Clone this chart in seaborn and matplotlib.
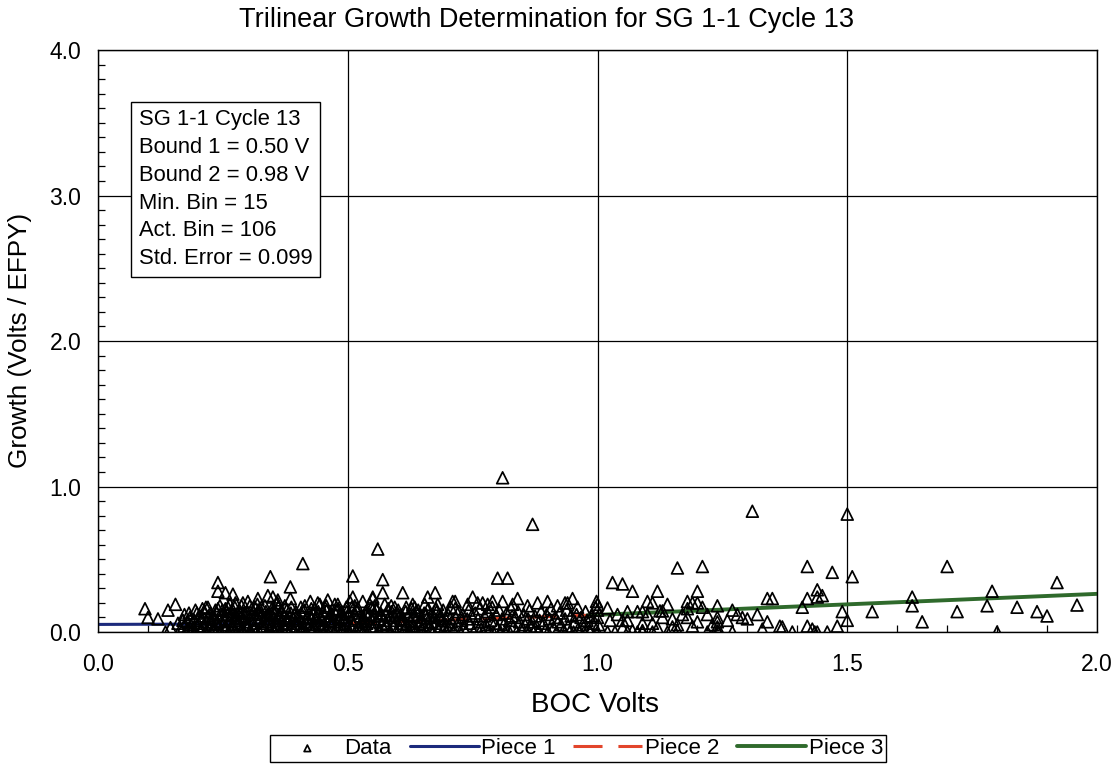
import matplotlib
matplotlib.use("Agg")
import matplotlib.pyplot as plt
import seaborn as sns
import pandas as pd
from matplotlib.ticker import MultipleLocator

# ---------------------------------------------------------------------------
# Growth rate vs. beginning-of-cycle voltage, SG 1-1 Cycle 13
# ---------------------------------------------------------------------------

# isolated indications below 0.17 V
left_tail = [
    (0.094, 0.16), (0.100, 0.10), (0.120, 0.09), (0.140, 0.15), (0.155, 0.19),
    (0.135, 0.00), (0.145, 0.03), (0.160, 0.06), (0.165, 0.02), (0.170, 0.08),
]

# the crowded band between 0.17 V and 0.71 V
dense_core = [
    (0.172, 0.04), (0.175, 0.00), (0.178, 0.07), (0.181, 0.02), (0.184, 0.10), (0.186, 0.05), (0.188, 0.01), (0.173, 0.12),
    (0.191, 0.03), (0.193, 0.08), (0.196, 0.00), (0.198, 0.13), (0.201, 0.06), (0.204, 0.11), (0.206, 0.02), (0.208, 0.09), (0.195, 0.15),
    (0.211, 0.04), (0.213, 0.14), (0.215, 0.00), (0.218, 0.07), (0.221, 0.11), (0.223, 0.02), (0.226, 0.09), (0.228, 0.05), (0.216, 0.17), (0.225, 0.13),
    (0.231, 0.01), (0.233, 0.10), (0.236, 0.06), (0.238, 0.13), (0.241, 0.03), (0.243, 0.08), (0.246, 0.00), (0.248, 0.12), (0.235, 0.15), (0.244, 0.18),
    (0.251, 0.05), (0.253, 0.02), (0.256, 0.09), (0.258, 0.14), (0.261, 0.00), (0.263, 0.07), (0.266, 0.11), (0.268, 0.04), (0.255, 0.16), (0.264, 0.19), (0.259, 0.12),
    (0.271, 0.03), (0.273, 0.08), (0.276, 0.12), (0.278, 0.00), (0.281, 0.06), (0.283, 0.15), (0.286, 0.10), (0.288, 0.02), (0.274, 0.17), (0.284, 0.13), (0.279, 0.05),
    (0.291, 0.01), (0.293, 0.11), (0.296, 0.07), (0.298, 0.14), (0.301, 0.04), (0.303, 0.09), (0.306, 0.00), (0.308, 0.16), (0.294, 0.13), (0.304, 0.18), (0.299, 0.03),
    (0.311, 0.06), (0.313, 0.02), (0.316, 0.12), (0.318, 0.08), (0.321, 0.15), (0.323, 0.00), (0.326, 0.10), (0.328, 0.04), (0.314, 0.17), (0.324, 0.13), (0.319, 0.19),
    (0.331, 0.03), (0.333, 0.09), (0.336, 0.14), (0.338, 0.00), (0.341, 0.07), (0.343, 0.11), (0.346, 0.05), (0.348, 0.16), (0.334, 0.18), (0.344, 0.02), (0.339, 0.12),
    (0.351, 0.01), (0.353, 0.13), (0.356, 0.08), (0.358, 0.04), (0.361, 0.17), (0.363, 0.10), (0.366, 0.00), (0.368, 0.06), (0.354, 0.15), (0.364, 0.12), (0.359, 0.20),
    (0.371, 0.05), (0.373, 0.11), (0.376, 0.02), (0.378, 0.15), (0.381, 0.08), (0.383, 0.00), (0.386, 0.13), (0.388, 0.03), (0.374, 0.18), (0.384, 0.10), (0.379, 0.06),
    (0.391, 0.09), (0.393, 0.01), (0.396, 0.14), (0.398, 0.06), (0.401, 0.11), (0.403, 0.03), (0.406, 0.17), (0.408, 0.00), (0.394, 0.12), (0.404, 0.08),
    (0.411, 0.04), (0.413, 0.15), (0.416, 0.00), (0.418, 0.10), (0.421, 0.07), (0.423, 0.13), (0.426, 0.02), (0.428, 0.09), (0.414, 0.18), (0.424, 0.05),
    (0.431, 0.12), (0.433, 0.03), (0.436, 0.08), (0.438, 0.00), (0.441, 0.14), (0.443, 0.06), (0.446, 0.10), (0.448, 0.01), (0.434, 0.16), (0.444, 0.19),
    (0.451, 0.05), (0.453, 0.11), (0.456, 0.02), (0.458, 0.15), (0.461, 0.08), (0.463, 0.00), (0.466, 0.13), (0.468, 0.04), (0.454, 0.17), (0.464, 0.09),
    (0.471, 0.07), (0.473, 0.00), (0.476, 0.12), (0.478, 0.03), (0.481, 0.16), (0.483, 0.09), (0.486, 0.01), (0.488, 0.14), (0.474, 0.19), (0.484, 0.05),
    (0.491, 0.02), (0.493, 0.10), (0.496, 0.06), (0.498, 0.14), (0.501, 0.00), (0.503, 0.12), (0.506, 0.04), (0.508, 0.17), (0.494, 0.08), (0.504, 0.21),
    (0.511, 0.05), (0.513, 0.13), (0.516, 0.01), (0.518, 0.09), (0.521, 0.16), (0.523, 0.03), (0.526, 0.11), (0.528, 0.07), (0.514, 0.18), (0.524, 0.00),
    (0.531, 0.10), (0.533, 0.02), (0.536, 0.14), (0.538, 0.06), (0.541, 0.00), (0.543, 0.12), (0.546, 0.04), (0.548, 0.17), (0.534, 0.08), (0.544, 0.19),
    (0.551, 0.03), (0.553, 0.11), (0.556, 0.07), (0.558, 0.15), (0.561, 0.01), (0.563, 0.09), (0.566, 0.13), (0.568, 0.05), (0.554, 0.18), (0.564, 0.00),
    (0.571, 0.08), (0.573, 0.02), (0.576, 0.12), (0.578, 0.05), (0.581, 0.16), (0.583, 0.00), (0.586, 0.10), (0.588, 0.14), (0.574, 0.19),
    (0.591, 0.04), (0.593, 0.11), (0.596, 0.00), (0.598, 0.08), (0.601, 0.15), (0.603, 0.02), (0.606, 0.12), (0.608, 0.06), (0.594, 0.17),
    (0.611, 0.09), (0.613, 0.01), (0.616, 0.14), (0.618, 0.05), (0.621, 0.11), (0.623, 0.00), (0.626, 0.07), (0.628, 0.16), (0.614, 0.03),
    (0.631, 0.12), (0.633, 0.04), (0.636, 0.08), (0.638, 0.00), (0.641, 0.15), (0.643, 0.06), (0.646, 0.10), (0.648, 0.02), (0.634, 0.17),
    (0.651, 0.05), (0.653, 0.13), (0.656, 0.01), (0.658, 0.09), (0.661, 0.16), (0.663, 0.03), (0.666, 0.11), (0.668, 0.07), (0.654, 0.19),
    (0.671, 0.00), (0.673, 0.10), (0.676, 0.06), (0.678, 0.14), (0.681, 0.02), (0.683, 0.12), (0.686, 0.04), (0.688, 0.08),
    (0.691, 0.15), (0.693, 0.03), (0.696, 0.09), (0.698, 0.00), (0.701, 0.12), (0.703, 0.05), (0.706, 0.17), (0.708, 0.07),
]

# second pass through the crowded band (overlapping indications)
dense_overlap = [
    (0.182, 0.13), (0.199, 0.04), (0.209, 0.16), (0.219, 0.01), (0.229, 0.10), (0.239, 0.07), (0.249, 0.15),
    (0.257, 0.03), (0.267, 0.14), (0.277, 0.09), (0.287, 0.18), (0.297, 0.05), (0.307, 0.12), (0.317, 0.00),
    (0.327, 0.17), (0.337, 0.06), (0.347, 0.13), (0.357, 0.02), (0.367, 0.15), (0.377, 0.09), (0.387, 0.17),
    (0.397, 0.04), (0.407, 0.13), (0.417, 0.06), (0.427, 0.16), (0.437, 0.11), (0.447, 0.04), (0.457, 0.18),
    (0.467, 0.07), (0.477, 0.15), (0.487, 0.10), (0.497, 0.17), (0.507, 0.08), (0.517, 0.15), (0.527, 0.02),
    (0.537, 0.12), (0.547, 0.09), (0.557, 0.16), (0.567, 0.11), (0.577, 0.06), (0.587, 0.18), (0.597, 0.13),
    (0.607, 0.09), (0.617, 0.17), (0.627, 0.04), (0.637, 0.14), (0.647, 0.07), (0.657, 0.12), (0.667, 0.02),
    (0.677, 0.16), (0.687, 0.11), (0.697, 0.05),
]

# thinner band from 0.71 V up to 1.0 V
mid_band = [
    (0.712, 0.01), (0.716, 0.10), (0.719, 0.05), (0.722, 0.14), (0.725, 0.00), (0.728, 0.08), (0.730, 0.12),
    (0.733, 0.03), (0.736, 0.00), (0.739, 0.09), (0.742, 0.15), (0.745, 0.06), (0.748, 0.11),
    (0.752, 0.00), (0.755, 0.13), (0.758, 0.04), (0.761, 0.09), (0.764, 0.16), (0.767, 0.02), (0.769, 0.07),
    (0.771, 0.00), (0.774, 0.11), (0.777, 0.05), (0.780, 0.14), (0.783, 0.01), (0.786, 0.08), (0.789, 0.17),
    (0.791, 0.00), (0.794, 0.06), (0.797, 0.12), (0.800, 0.03), (0.803, 0.15), (0.806, 0.00), (0.809, 0.09),
    (0.812, 0.05), (0.815, 0.00), (0.818, 0.13), (0.821, 0.02), (0.824, 0.08), (0.827, 0.16), (0.829, 0.11),
    (0.832, 0.04), (0.835, 0.10), (0.838, 0.00), (0.841, 0.14), (0.844, 0.07), (0.847, 0.02),
    (0.852, 0.12), (0.855, 0.05), (0.858, 0.00), (0.861, 0.09), (0.864, 0.15), (0.867, 0.03), (0.869, 0.07),
    (0.872, 0.00), (0.875, 0.11), (0.878, 0.04), (0.881, 0.00), (0.884, 0.08), (0.887, 0.14),
    (0.892, 0.06), (0.895, 0.01), (0.898, 0.12), (0.901, 0.00), (0.904, 0.09), (0.907, 0.16),
    (0.912, 0.03), (0.915, 0.10), (0.918, 0.00), (0.921, 0.07), (0.924, 0.13), (0.927, 0.05),
    (0.932, 0.01), (0.935, 0.09), (0.938, 0.15), (0.941, 0.04), (0.944, 0.00), (0.947, 0.11),
    (0.952, 0.00), (0.955, 0.07), (0.958, 0.12), (0.961, 0.02), (0.964, 0.00), (0.967, 0.10), (0.970, 0.05),
    (0.973, 0.00), (0.976, 0.14), (0.979, 0.08), (0.982, 0.03), (0.985, 0.00), (0.988, 0.11), (0.991, 0.06),
    (0.998, 0.21), (1.000, 0.19), (1.000, 0.15), (1.000, 0.10), (1.002, 0.05), (1.000, 0.00), (0.996, 0.17),
]

# higher growth rates sitting above the band (below 1.0 V)
upper_scatter = [
    (0.240, 0.34), (0.240, 0.28), (0.255, 0.27), (0.270, 0.26), (0.345, 0.38), (0.340, 0.25),
    (0.350, 0.24), (0.300, 0.21), (0.320, 0.23), (0.240, 0.16), (0.260, 0.17), (0.275, 0.20),
    (0.385, 0.31), (0.385, 0.23), (0.410, 0.47), (0.425, 0.21), (0.510, 0.385), (0.560, 0.57),
    (0.570, 0.36), (0.570, 0.27), (0.510, 0.24), (0.550, 0.24), (0.610, 0.27), (0.630, 0.19),
    (0.660, 0.24), (0.675, 0.27), (0.710, 0.21), (0.750, 0.24), (0.770, 0.20), (0.680, 0.19),
    (0.530, 0.21), (0.550, 0.23), (0.790, 0.21), (0.810, 0.21), (0.840, 0.23), (0.900, 0.21),
    (0.950, 0.23), (0.935, 0.20), (0.960, 0.17), (0.715, 0.21), (0.715, 0.16), (0.800, 0.37),
    (0.820, 0.37), (0.810, 1.06), (0.870, 0.74), (0.460, 0.22), (0.440, 0.20), (0.480, 0.19),
    (0.360, 0.22), (0.290, 0.20), (0.220, 0.17), (0.740, 0.19), (0.760, 0.20), (0.780, 0.19),
    (0.830, 0.19), (0.860, 0.18), (0.880, 0.20), (0.920, 0.18), (0.940, 0.20),
]

# indications between 1.0 V and 1.5 V
upper_range = [
    (1.030, 0.34), (1.050, 0.33), (1.070, 0.28), (1.120, 0.28), (1.160, 0.44), (1.210, 0.45),
    (1.200, 0.28), (1.100, 0.21), (1.110, 0.20), (1.140, 0.19), (1.180, 0.21), (1.190, 0.20),
    (1.200, 0.20), (1.210, 0.17), (1.240, 0.18), (1.060, 0.14), (1.080, 0.14), (1.090, 0.14),
    (1.125, 0.145), (1.130, 0.145), (1.180, 0.16), (1.280, 0.12), (1.290, 0.10), (1.300, 0.09),
    (1.320, 0.12), (1.340, 0.23), (1.350, 0.23), (1.340, 0.07), (1.370, 0.035), (1.390, 0.00),
    (1.050, 0.08), (1.060, 0.08), (1.090, 0.06), (1.110, 0.06), (1.150, 0.09), (1.150, 0.035),
    (1.140, 0.00), (1.160, 0.01), (1.180, 0.10), (1.200, 0.07), (1.240, 0.10), (1.240, 0.07),
    (1.240, 0.035), (1.240, 0.007), (1.242, 0.00), (1.220, 0.00), (1.270, 0.00), (1.050, 0.03),
    (1.060, 0.00), (1.070, 0.01), (1.090, 0.01), (1.090, 0.00), (1.110, 0.00), (1.020, 0.165),
    (1.025, 0.08), (1.040, 0.12), (1.035, 0.00), (1.020, 0.00), (1.080, 0.00), (1.100, 0.12),
    (1.120, 0.03), (1.130, 0.10), (1.160, 0.05), (1.170, 0.12), (1.190, 0.04), (1.220, 0.12),
    (1.230, 0.05), (1.260, 0.08), (1.270, 0.15), (1.310, 0.83), (1.330, 0.02), (1.365, 0.04),
    (1.420, 0.45), (1.470, 0.41), (1.500, 0.81), (1.440, 0.29), (1.420, 0.23), (1.440, 0.24),
    (1.450, 0.25), (1.410, 0.17), (1.490, 0.14), (1.500, 0.08), (1.420, 0.04), (1.430, 0.02),
    (1.440, 0.00), (1.460, 0.00), (1.480, 0.04), (1.435, 0.00),
]

# sparse indications above 1.5 V
right_tail = [
    (1.510, 0.38), (1.550, 0.14), (1.630, 0.24), (1.630, 0.18), (1.650, 0.07), (1.700, 0.45),
    (1.720, 0.14), (1.780, 0.18), (1.790, 0.28), (1.800, 0.00), (1.840, 0.17), (1.880, 0.14),
    (1.900, 0.11), (1.920, 0.34), (1.960, 0.185),
]

# trilinear fit: breakpoints and fitted growth at each end of a piece
piece_names = ["Piece 1", "Piece 2", "Piece 3"]
piece_volts = [(0.0, 0.50), (0.50, 0.98), (0.98, 2.0)]
piece_growth = [(0.052, 0.058), (0.058, 0.115), (0.115, 0.262)]
piece_colors = ["#1c2a7c", "#e2452b", "#2f6a2c"]

summary_lines = [
    "SG 1-1 Cycle 13",
    "Bound 1 = 0.50 V",
    "Bound 2 = 0.98 V",
    "Min. Bin = 15",
    "Act. Bin = 106",
    "Std. Error = 0.099",
]

# ---------------------------------------------------------------------------
points = (left_tail + dense_core + dense_overlap + mid_band + upper_scatter
          + upper_range + right_tail)
df = pd.DataFrame(points, columns=["boc", "growth"])

sns.set_style("white")
plt.rcParams["font.family"] = ["Liberation Sans", "DejaVu Sans"]
for key in ["text.color", "axes.labelcolor", "xtick.color", "ytick.color"]:
    plt.rcParams[key] = "black"

fig = plt.figure(figsize=(11.18, 7.71), dpi=100)
ax = fig.add_axes([0.0877, 0.1803, 0.8935, 0.7548])

for name, xs, ys, col in zip(piece_names, piece_volts, piece_growth, piece_colors):
    style = (0, (9.5, 5.2)) if name == "Piece 2" else "-"
    lw = 2.8 if name == "Piece 3" else 2.2
    sns.lineplot(x=list(xs), y=list(ys), ax=ax, color=col, linewidth=lw,
                 linestyle=style, label=name, zorder=2)

sns.scatterplot(data=df, x="boc", y="growth", ax=ax, marker="^", s=72,
                facecolor="none", edgecolor="black", linewidth=1.25,
                label="Data", zorder=3)

ax.set_xlim(0, 2.0)
ax.set_ylim(0, 4.0)
ax.xaxis.set_major_locator(MultipleLocator(0.5))
ax.yaxis.set_major_locator(MultipleLocator(1.0))
ax.xaxis.set_minor_locator(MultipleLocator(0.1))
ax.yaxis.set_minor_locator(MultipleLocator(0.1))
ax.xaxis.set_major_formatter(plt.FormatStrFormatter("%.1f"))
ax.yaxis.set_major_formatter(plt.FormatStrFormatter("%.1f"))
ax.grid(True, which="major", color="black", linewidth=0.9)
ax.set_axisbelow(True)
ax.tick_params(which="both", direction="in", bottom=True, left=True,
               top=False, right=False, color="black", width=0.9)
ax.tick_params(which="major", length=0, labelsize=16.5, pad=12)
ax.tick_params(axis="x", which="major", pad=15)
ax.tick_params(which="minor", length=5)
for sp in ax.spines.values():
    sp.set_color("black")
    sp.set_linewidth(1.0)

ax.set_xlabel("")
ax.set_ylabel("")
fig.text(0.532, 0.0856, "BOC Volts", ha="center", va="center", fontsize=20)
fig.text(0.018, 0.558, "Growth (Volts / EFPY)", ha="center", va="center",
         rotation=90, fontsize=18.8)
fig.text(0.489, 0.974, "Trilinear Growth Determination for SG 1-1 Cycle 13",
         ha="center", va="center", fontsize=19.5)

ax.text(0.041, 0.898, "\n".join(summary_lines), transform=ax.transAxes,
        ha="left", va="top", fontsize=15.8, linespacing=1.42,
        bbox=dict(boxstyle="square,pad=0.35", facecolor="white",
                  edgecolor="black", linewidth=1.0), zorder=5)

handles, labels = ax.get_legend_handles_labels()
order = [labels.index(n) for n in ["Data"] + piece_names]
leg = fig.legend([handles[i] for i in order], [labels[i] for i in order],
                 loc="center", bbox_to_anchor=(0.517, 0.029), ncol=4,
                 fontsize=16, frameon=True, fancybox=False, framealpha=1,
                 edgecolor="black", markerscale=0.55, handlelength=3.1,
                 handletextpad=0.12, columnspacing=0.8, borderpad=0.15,
                 borderaxespad=0)
leg.get_frame().set_linewidth(1.0)
if ax.get_legend() is not None:
    ax.get_legend().remove()

fig.savefig("out.png", dpi=100)
